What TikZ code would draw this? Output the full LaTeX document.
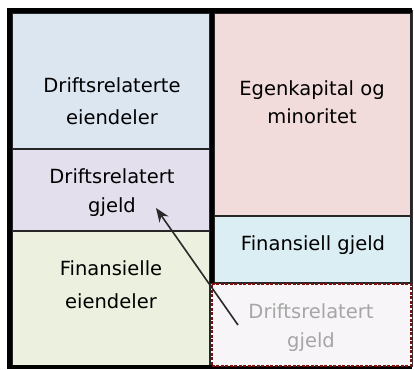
\documentclass[tikz,border=0pt]{standalone}
\usepackage{fontspec}
\setmainfont{DejaVu Sans}
\usetikzlibrary{arrows.meta}
\definecolor{cA}{HTML}{DCE6F1}
\definecolor{cB}{HTML}{E4DFEC}
\definecolor{cC}{HTML}{EBF1DE}
\definecolor{cD}{HTML}{F2DCDB}
\definecolor{cE}{HTML}{DAEEF3}
\definecolor{cF}{HTML}{F7F5F7}
\definecolor{dred}{HTML}{7A1010}
\definecolor{gtxt}{HTML}{A6A6A6}
\definecolor{arr}{HTML}{2A2A2A}
\tikzset{
  box/.style={draw=black!85, line width=1.2pt, inner sep=0pt},
  lbl/.style={align=center, anchor=base, inner sep=0pt, font=\fontsize{19.5}{32}\selectfont},
}
\begin{document}
\begin{tikzpicture}[x=1pt,y=-1pt]
\useasboundingbox (0,0) rectangle (414,369);
% boxes
\node[box, fill=cA, minimum width=198pt, minimum height=136pt] (A) at (111,81) {};
\node[box, fill=cB, minimum width=198pt, minimum height=82pt] (B) at (111,190) {};
\node[box, fill=cC, minimum width=198pt, minimum height=135pt] (C) at (111,298.5) {};
\node[box, fill=cD, minimum width=197pt, minimum height=203pt] (D) at (312.5,114.5) {};
\node[box, fill=cE, minimum width=197pt, minimum height=67pt] (E) at (312.5,249.5) {};
% divider and frame
\draw[line width=4.5pt, black] (211.8,12) -- (211.8,283);
\draw[line width=1pt, black!80] (412.5,10) -- (412.5,367);
\draw[line width=4.5pt, black] (412,10.5) -- (9.5,10.5) -- (9.5,367) -- (412,367);
\node[draw=dred, dash pattern=on 3pt off 1.5pt, line width=2pt, fill=cF, inner sep=0pt, minimum width=199pt, minimum height=82pt] (F) at (311,324.5) {};
% labels
\node[lbl] (tA) at (112,124) {Driftsrelaterte\\eiendeler};
\node[lbl, font=\fontsize{19.5}{29}\selectfont] (tB) at (112,212) {Driftsrelatert\\gjeld};
\node[lbl, font=\fontsize{19.5}{33}\selectfont] (tC) at (111,308) {Finansielle\\eiendeler};
\node[lbl, font=\fontsize{19.5}{28}\selectfont] (tD) at (312,123) {Egenkapital og\\minoritet};
\node[lbl] (tE) at (313,250) {Finansiell gjeld};
\node[lbl, text=gtxt, font=\fontsize{19.5}{29}\selectfont] (tF) at (311,347) {Driftsrelatert\\gjeld};
% arrow
\coordinate (as) at (238,325);
\coordinate (ae) at (156,208);
\draw[arr, line width=1.6pt, -{Stealth[length=14pt,width=11pt]}] (as) -- (ae);
\end{tikzpicture}
\end{document}
